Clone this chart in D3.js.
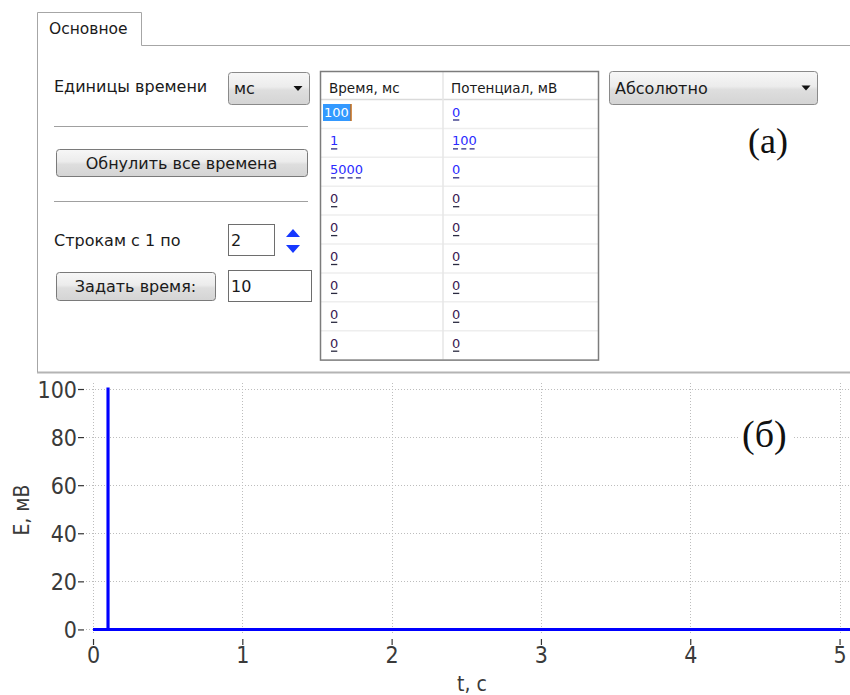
<!DOCTYPE html>
<html>
<head>
<meta charset="utf-8">
<script src="https://cdn.jsdelivr.net/npm/d3@7"></script>
<style>
  body { margin: 0; background: #fff; }
  svg { display: block; }
  .ui { font-family: "DejaVu Sans", Tahoma, sans-serif; fill: #1a1a1a; }
  .tick-lbl { font-family: "DejaVu Sans Condensed", "DejaVu Sans", sans-serif; font-weight: 200; font-stretch: condensed; fill: #3a3a3a; }
</style>
</head>
<body>
<div class="container"></div>
<script>
(function() {
  // Table contents (durations in ms, potentials in mV)
  var tableHeaders = ['Время, мс', 'Потенциал, мВ'];
  var tableTimes = ['100', '1', '5000', '0', '0', '0', '0', '0', '0'];
  var tablePotentials = ['0', '100', '0', '0', '0', '0', '0', '0', '0'];
  var editedRows = 3;

  // Axis ticks
  var xTicks = [0, 1, 2, 3, 4, 5];
  var yTicks = [0, 20, 40, 60, 80, 100];

  var W = 850, H = 695;

  var svg = d3.select('div.container').append('svg')
    .attr('width', W).attr('height', H);

  var defs = svg.append('defs');
  var grad = defs.append('linearGradient').attr('id', 'btn')
    .attr('x1', 0).attr('y1', 0).attr('x2', 0).attr('y2', 1);
  grad.append('stop').attr('offset', '0%').attr('stop-color', '#f7f7f7');
  grad.append('stop').attr('offset', '45%').attr('stop-color', '#ececec');
  grad.append('stop').attr('offset', '55%').attr('stop-color', '#dedede');
  grad.append('stop').attr('offset', '100%').attr('stop-color', '#d4d4d4');

  defs.append('clipPath').attr('id', 'plotclip').append('rect')
    .attr('x', 86).attr('y', 380).attr('width', 764).attr('height', 256);

  // ---- panel (a) ----
  var panel = svg.append('g');

  panel.append('line').attr('x1', 37).attr('x2', 850).attr('y1', 372.5).attr('y2', 372.5)
    .attr('stroke', '#b4b4b4').attr('stroke-width', 2);
  panel.append('path')
    .attr('d', 'M37.5,372 V12.5 H141.5 V45.5 H850')
    .attr('fill', 'none').attr('stroke', '#a6a6a6');

  panel.append('text').attr('class', 'ui').attr('x', 49).attr('y', 34)
    .style('font-size', '15.5px').text('Основное');

  function label(x, y, s) {
    panel.append('text').attr('class', 'ui').attr('x', x).attr('y', y)
      .style('font-size', '16px').text(s);
  }

  function button(x, y, w, h, s) {
    panel.append('rect').attr('x', x + 0.5).attr('y', y + 0.5).attr('width', w).attr('height', h)
      .attr('rx', 3).attr('fill', 'url(#btn)').attr('stroke', '#7a7a7a');
    panel.append('text').attr('class', 'ui').attr('x', x + w / 2).attr('y', y + h / 2 + 6)
      .attr('text-anchor', 'middle').style('font-size', '16px').text(s);
  }

  function combo(x, y, w, h, s) {
    panel.append('rect').attr('x', x + 0.5).attr('y', y + 0.5).attr('width', w).attr('height', h)
      .attr('rx', 3).attr('fill', 'url(#btn)').attr('stroke', '#8a8a8a');
    panel.append('text').attr('class', 'ui').attr('x', x + 6).attr('y', y + h / 2 + 6)
      .style('font-size', '16px').text(s);
    var ax = x + w - 11, ay = y + h / 2;
    panel.append('path')
      .attr('d', 'M' + (ax - 4.5) + ',' + (ay - 2) + ' H' + (ax + 4.5) + ' L' + ax + ',' + (ay + 3) + ' Z')
      .attr('fill', '#111');
  }

  function textbox(x, y, w, h, s) {
    panel.append('rect').attr('x', x + 0.5).attr('y', y + 0.5).attr('width', w).attr('height', h)
      .attr('fill', '#fff').attr('stroke', '#6e6e6e');
    panel.append('text').attr('class', 'ui').attr('x', x + 3).attr('y', y + h / 2 + 6)
      .style('font-size', '16px').text(s);
  }

  function separator(y) {
    panel.append('line').attr('x1', 54).attr('x2', 308).attr('y1', y + 0.5).attr('y2', y + 0.5)
      .attr('stroke', '#a0a0a0');
  }

  label(54, 92, 'Единицы времени');
  combo(228, 72, 81, 32, 'мс');
  separator(126);
  button(56, 149, 251, 27, 'Обнулить все времена');
  separator(201);
  label(54, 246, 'Строкам с 1 по');
  textbox(228, 224, 46, 31, '2');
  panel.append('path').attr('d', 'M286,237 H300 L293,229 Z').attr('fill', '#1638ff');
  panel.append('path').attr('d', 'M286,245 H300 L293,253 Z').attr('fill', '#1638ff');
  button(56, 272, 159, 28, 'Задать время:');
  textbox(228, 270, 83, 31, '10');
  combo(609, 71, 208, 33, 'Абсолютно');

  // ---- table ----
  var tbl = panel.append('g');
  var tx0 = 320, tx1 = 598, tColX = 443, tTop = 71, hdrBottom = 99.5, rowH = 28.9;
  var nRows = tableTimes.length;
  var tBottom = hdrBottom + nRows * rowH;

  tbl.append('rect').attr('x', tx0).attr('y', tTop).attr('width', tx1 - tx0).attr('height', tBottom - tTop)
    .attr('fill', '#fff');
  tbl.selectAll('line.row').data(d3.range(nRows)).enter().append('line')
    .attr('x1', tx0).attr('x2', tx1)
    .attr('y1', function(i) { return hdrBottom + i * rowH; })
    .attr('y2', function(i) { return hdrBottom + i * rowH; })
    .attr('stroke', function(i) { return i === 0 ? '#dadada' : '#eeeeee'; })
    .attr('stroke-width', 1.5);
  tbl.append('line').attr('x1', tColX).attr('x2', tColX).attr('y1', tTop).attr('y2', tBottom)
    .attr('stroke', '#e6e6e6').attr('stroke-width', 1.5);
  tbl.append('rect').attr('x', tx0 + 0.5).attr('y', tTop + 0.5).attr('width', tx1 - tx0).attr('height', tBottom - tTop)
    .attr('fill', 'none').attr('stroke', '#7c7c7c').attr('stroke-width', 1.5);

  tbl.selectAll('text.hdr').data(tableHeaders).enter().append('text')
    .attr('class', 'ui')
    .attr('x', function(d, i) { return i === 0 ? 329 : 451; })
    .attr('y', 93)
    .style('font-size', '13.5px')
    .text(function(d) { return d; });

  // selected cell
  tbl.append('rect').attr('x', 323).attr('y', 104).attr('width', 28).attr('height', 17).attr('fill', '#3399ff');
  tbl.append('line').attr('x1', 351).attr('x2', 351).attr('y1', 104).attr('y2', 121)
    .attr('stroke', '#c86a10').attr('stroke-width', 1.5);

  var cells = [];
  tableTimes.forEach(function(v, i) { cells.push({ row: i, col: 0, v: v }); });
  tablePotentials.forEach(function(v, i) { cells.push({ row: i, col: 1, v: v }); });

  cells.forEach(function(c) {
    var selected = c.row === 0 && c.col === 0;
    var x = c.col === 0 ? (selected ? 324 : 330) : 452;
    var y = hdrBottom + c.row * rowH + 17;
    var color = selected ? '#fff' : (c.row < editedRows ? '#2b2bff' : '#3a1a52');
    var t = tbl.append('text').attr('class', 'ui').attr('x', x).attr('y', y)
      .style('font-size', '13px').style('fill', color).text(c.v);
    if (!selected) {
      var w = t.node().getComputedTextLength();
      tbl.append('line').attr('x1', x + 1).attr('x2', x + w - 1).attr('y1', y + 3.5).attr('y2', y + 3.5)
        .attr('stroke', c.row < editedRows ? '#2a2a80' : '#2a2a40').attr('stroke-width', 1.3)
        .attr('stroke-dasharray', c.v.length > 1 ? '5,3.3' : null);
    }
  });

  panel.append('text').attr('x', 748).attr('y', 153)
    .style('font-family', '"Liberation Serif", "DejaVu Serif", serif').style('font-size', '36px')
    .style('fill', '#111').text('(а)');

  // ---- chart (б) ----
  // build the step signal from the table: each row holds its level for its duration
  var points = [];
  var t = 0;
  tableTimes.forEach(function(d, i) {
    var dur = +d / 1000, v = +tablePotentials[i];
    if (dur > 0) {
      points.push([t, v]);
      t += dur;
      points.push([t, v]);
    }
  });

  var x = d3.scaleLinear().domain([-0.047, 5.07]).range([86, 850]);
  var y = d3.scaleLinear().domain([-1.9, 102.5]).range([634, 383]);

  var chart = svg.append('g');

  chart.selectAll('line.vgrid').data(xTicks).enter().append('line')
    .attr('x1', function(d) { return Math.round(x(d)) + 0.5; })
    .attr('x2', function(d) { return Math.round(x(d)) + 0.5; })
    .attr('y1', 383).attr('y2', 634)
    .attr('stroke', '#bdbdbd').attr('stroke-dasharray', '1,2');
  chart.selectAll('line.hgrid').data(yTicks).enter().append('line')
    .attr('x1', 86).attr('x2', 850)
    .attr('y1', function(d) { return Math.round(y(d)) + 0.5; })
    .attr('y2', function(d) { return Math.round(y(d)) + 0.5; })
    .attr('stroke', '#bdbdbd').attr('stroke-dasharray', '1,2');

  var yAxis = chart.append('g').attr('transform', 'translate(84,0)')
    .call(d3.axisLeft(y).tickValues(yTicks).tickSize(6).tickPadding(1).tickFormat(d3.format('d')));
  var xAxis = chart.append('g').attr('transform', 'translate(0,639)')
    .call(d3.axisBottom(x).tickValues(xTicks).tickSize(6).tickPadding(2).tickFormat(d3.format('d')));

  [yAxis, xAxis].forEach(function(a) {
    a.select('.domain').remove();
    a.selectAll('.tick line').attr('stroke', '#333').attr('stroke-width', 1.2);
    a.selectAll('.tick text').attr('class', 'tick-lbl').attr('fill', null)
      .style('font-size', '23px');
  });
  yAxis.selectAll('.tick text').attr('dy', '0.36em');

  chart.append('path')
    .datum(points)
    .attr('clip-path', 'url(#plotclip)')
    .attr('fill', 'none').attr('stroke', '#0000ff').attr('stroke-width', 3)
    .attr('d', d3.line().x(function(d) { return x(d[0]); }).y(function(d) { return y(d[1]); }));

  chart.append('text').attr('class', 'tick-lbl')
    .attr('transform', 'translate(29,510) rotate(-90)')
    .attr('text-anchor', 'middle').style('font-size', '21px').text('E, мВ');
  chart.append('text').attr('class', 'tick-lbl')
    .attr('x', 472).attr('y', 691)
    .attr('text-anchor', 'middle').style('font-size', '21px').text('t, с');

  chart.append('rect').attr('x', 740).attr('y', 418).attr('width', 54).attr('height', 38).attr('fill', '#fff');
  chart.append('text').attr('x', 742).attr('y', 447)
    .style('font-family', '"Liberation Serif", "DejaVu Serif", serif').style('font-size', '38px')
    .style('fill', '#111').text('(б)');

}).call(this);
</script>
</body>
</html>
